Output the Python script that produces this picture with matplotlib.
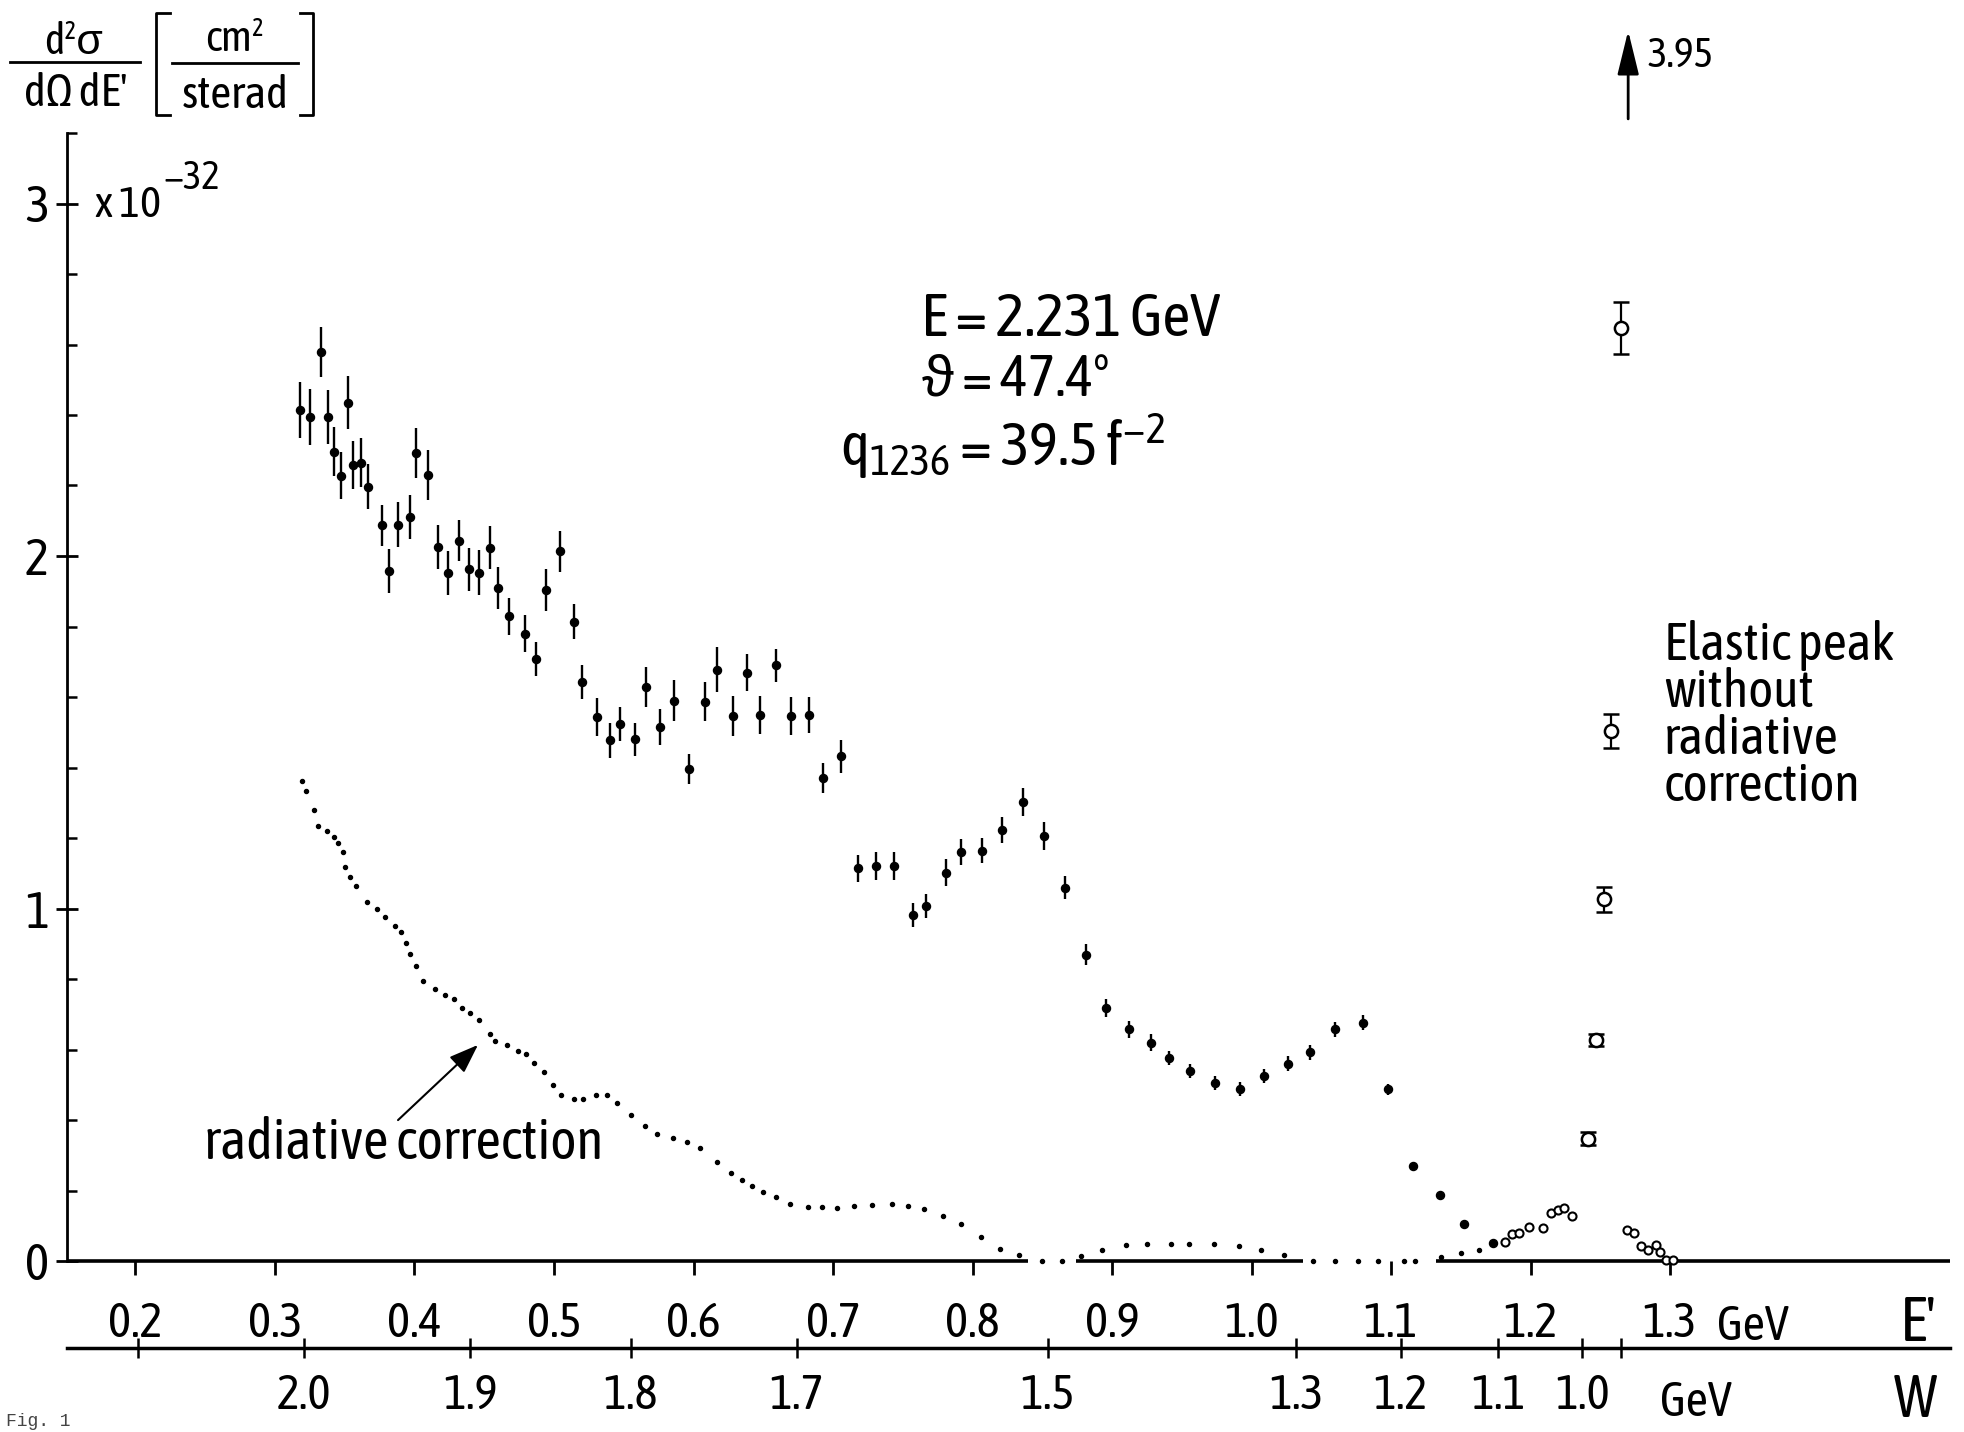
import matplotlib
matplotlib.use('Agg')
import matplotlib.pyplot as plt
from matplotlib.lines import Line2D
from matplotlib.patches import FancyArrowPatch

# schmale Schrift wie die Normschrift im Original
plt.rcParams['font.family'] = ['Asap Condensed', 'Liberation Sans', 'DejaVu Sans']
plt.rcParams['mathtext.default'] = 'regular'

# --- Messpunkte (gefuellte Kreise mit Fehlerbalken), E' in GeV, Wirkungsquerschnitt in 1e-32
e_data = [0.318, 0.325, 0.333, 0.338, 0.342, 0.347, 0.352, 0.356, 0.362, 0.367,
          0.377, 0.382, 0.388, 0.397, 0.401, 0.410, 0.417, 0.424, 0.432, 0.439,
          0.446, 0.454, 0.460, 0.468, 0.479, 0.487, 0.494, 0.504, 0.514, 0.520,
          0.531, 0.540, 0.547, 0.558, 0.566, 0.576, 0.586, 0.597, 0.608, 0.617,
          0.628, 0.638, 0.648, 0.659, 0.670, 0.683, 0.693, 0.706,
          0.718, 0.731, 0.744, 0.757, 0.767, 0.781, 0.792, 0.807, 0.821, 0.836,
          0.851, 0.866, 0.881, 0.896, 0.912, 0.928, 0.941, 0.956, 0.974, 0.992,
          1.009, 1.026, 1.042, 1.060, 1.080, 1.098, 1.116, 1.135, 1.152, 1.173]
sig_data = [2.415, 2.395, 2.579, 2.395, 2.296, 2.228, 2.435, 2.257, 2.265, 2.197,
            2.087, 1.957, 2.089, 2.110, 2.293, 2.230, 2.026, 1.952, 2.043, 1.962,
            1.953, 2.023, 1.910, 1.829, 1.780, 1.708, 1.904, 2.013, 1.814, 1.642,
            1.543, 1.477, 1.523, 1.480, 1.629, 1.515, 1.589, 1.396, 1.587, 1.678,
            1.546, 1.669, 1.548, 1.690, 1.547, 1.549, 1.370, 1.432,
            1.114, 1.121, 1.121, 0.982, 1.008, 1.102, 1.161, 1.164, 1.223, 1.302,
            1.205, 1.059, 0.869, 0.718, 0.657, 0.619, 0.575, 0.540, 0.506, 0.489,
            0.524, 0.560, 0.592, 0.657, 0.676, 0.487, 0.269, 0.186, 0.105, 0.050]
err_data = [0.080, 0.079, 0.071, 0.077, 0.069, 0.066, 0.076, 0.068, 0.069, 0.064,
            0.058, 0.063, 0.064, 0.063, 0.071, 0.070, 0.062, 0.062, 0.058, 0.061,
            0.063, 0.061, 0.060, 0.053, 0.053, 0.049, 0.060, 0.059, 0.050, 0.048,
            0.055, 0.049, 0.048, 0.046, 0.056, 0.052, 0.058, 0.042, 0.055, 0.063,
            0.057, 0.053, 0.054, 0.047, 0.054, 0.052, 0.043, 0.047,
            0.038, 0.039, 0.040, 0.034, 0.034, 0.038, 0.037, 0.036, 0.036, 0.040,
            0.039, 0.033, 0.029, 0.025, 0.025, 0.024, 0.020, 0.020, 0.020, 0.020,
            0.020, 0.022, 0.022, 0.022, 0.022, 0.015, 0.0, 0.0, 0.0, 0.0]

# --- Strahlungskorrektur (punktierte Kurve)
rad_e = [0.319, 0.322, 0.328, 0.331, 0.337, 0.342, 0.345, 0.349, 0.350, 0.354,
         0.358, 0.366, 0.373, 0.379, 0.386, 0.390, 0.394, 0.397, 0.401, 0.406,
         0.415, 0.422, 0.428, 0.434, 0.440, 0.446, 0.454, 0.458, 0.466, 0.474,
         0.480, 0.486, 0.493, 0.499, 0.505, 0.514, 0.521, 0.530, 0.538, 0.545,
         0.555, 0.565, 0.574, 0.585, 0.595, 0.605, 0.617, 0.627, 0.635, 0.642,
         0.650, 0.659, 0.669, 0.682, 0.692, 0.703, 0.715, 0.728, 0.742, 0.754,
         0.765, 0.779, 0.792, 0.806, 0.820, 0.833, 0.850, 0.864, 0.878, 0.893,
         0.910, 0.925, 0.942, 0.955, 0.973, 0.991, 1.007, 1.023, 1.044, 1.060,
         1.076, 1.091, 1.109, 1.117, 1.136, 1.150, 1.163]
rad_v = [1.361, 1.334, 1.279, 1.235, 1.220, 1.204, 1.185, 1.159, 1.117, 1.088,
         1.065, 1.018, 0.998, 0.976, 0.949, 0.932, 0.902, 0.870, 0.837, 0.795,
         0.773, 0.755, 0.744, 0.719, 0.704, 0.684, 0.645, 0.625, 0.612, 0.597,
         0.586, 0.561, 0.536, 0.498, 0.471, 0.459, 0.459, 0.472, 0.471, 0.448,
         0.413, 0.383, 0.361, 0.349, 0.337, 0.320, 0.280, 0.251, 0.231, 0.213,
         0.197, 0.182, 0.162, 0.154, 0.153, 0.151, 0.155, 0.159, 0.162, 0.156,
         0.147, 0.129, 0.104, 0.069, 0.034, 0.017, 0.000, 0.000, 0.014, 0.032,
         0.046, 0.047, 0.049, 0.047, 0.048, 0.043, 0.032, 0.018, 0.000, 0.000,
         0.000, 0.000, 0.000, 0.000, 0.011, 0.023, 0.031]

# --- elastischer Peak ohne Strahlungskorrektur (offene Kreise)
el_e = [1.241, 1.247, 1.253, 1.258, 1.265]
el_v = [0.347, 0.628, 1.026, 1.503, 2.647]
el_err = [0.018, 0.017, 0.035, 0.049, 0.073]
tail_e = [1.182, 1.187, 1.192, 1.199, 1.209, 1.215, 1.220, 1.224, 1.230,
          1.269, 1.274, 1.279, 1.284, 1.290, 1.293, 1.297, 1.302]
tail_v = [0.054, 0.076, 0.080, 0.096, 0.094, 0.136, 0.145, 0.150, 0.129,
          0.087, 0.079, 0.043, 0.032, 0.045, 0.025, 0.004, 0.004]
peak_e = 1.270
peak_v = 3.95

# --- Achsen
e_ticks = [0.2, 0.3, 0.4, 0.5, 0.6, 0.7, 0.8, 0.9, 1.0, 1.1, 1.2, 1.3]
e_labels = ['0.2', '0.3', '0.4', '0.5', '0.6', '0.7', '0.8', '0.9', '1.0', '1.1', '1.2', '1.3']
w_pos = [0.202, 0.321, 0.440, 0.555, 0.674, 0.854, 1.032, 1.107, 1.177, 1.237, 1.265]
w_labels = ['', '2.0', '1.9', '1.8', '1.7', '1.5', '1.3', '1.2', '1.1', '1.0', '']
y_major = [0, 1, 2, 3]
y_minor = [round(0.2 * i, 1) for i in range(1, 17) if i % 5 != 0]

W_PX, H_PX = 1965, 1432


def fx(x):
    return x / W_PX


def fy(y):
    return 1 - y / H_PX


fig = plt.figure(figsize=(19.65, 14.32), dpi=100, facecolor='white')
ax = fig.add_axes([fx(67), fy(1261), fx(1950) - fx(67), fy(133) - fy(1261)])
ax.set_xlim(0.1509, 1.5007)
ax.set_ylim(0, 3.2)

for s in ['top', 'right', 'bottom']:
    ax.spines[s].set_visible(False)
ax.spines['left'].set_linewidth(2.0)

# untere Achse mit Luecken wie im Original
for a, b in [(0.1509, 0.840), (0.874, 1.037), (1.132, 1.5007)]:
    ax.plot([a, b], [0, 0], color='k', lw=2.6, solid_capstyle='butt', clip_on=False)

ax.set_xticks(e_ticks, labels=e_labels)
ax.tick_params(axis='x', which='major', direction='out', length=10, width=2,
               pad=18, labelsize=35)
ax.set_yticks(y_major, labels=[str(v) for v in y_major])
ax.set_yticks(y_minor, minor=True)
ax.tick_params(axis='y', which='major', direction='inout', length=16, width=2,
               pad=5, labelsize=37)
ax.tick_params(axis='y', which='minor', direction='in', length=7, width=1.8)

# W-Achse
secax = ax.secondary_xaxis(-0.0771)
secax.set_xticks(w_pos, labels=w_labels)
secax.tick_params(direction='inout', length=14, width=1.8, pad=10, labelsize=35)
secax.spines['bottom'].set_linewidth(2.5)

# Daten
ax.plot(rad_e, rad_v, 'o', color='k', ms=2.9, ls='none', clip_on=False, zorder=3)
ax.errorbar(e_data, sig_data, yerr=err_data, fmt='o', color='k', ms=5.8,
            elinewidth=1.7, capsize=0, zorder=4)
ax.plot(tail_e, tail_v, 'o', mfc='white', mec='k', ms=5.8, mew=1.5, ls='none',
        clip_on=False, zorder=4)
ax.errorbar(el_e, el_v, yerr=el_err, fmt='o', mfc='white', mec='k', color='k',
            ms=9.5, mew=1.8, elinewidth=1.6, capsize=6, capthick=1.6, zorder=5)
ax.annotate('', xy=(peak_e, 3.49), xytext=(peak_e, 3.24), xycoords='data',
            annotation_clip=False,
            arrowprops=dict(arrowstyle='-|>,head_length=0.9,head_width=0.22',
                            lw=2.0, color='k', mutation_scale=30, shrinkA=0, shrinkB=0))
fig.text(fx(1647), fy(56), '%.2f' % peak_v, ha='left', va='center', fontsize=30)

# Texte
fig.text(fx(921), fy(336), 'E = 2.231 GeV', ha='left', va='baseline', fontsize=44)
fig.text(fx(922), fy(396), 'ϑ = 47.4°', ha='left', va='baseline', fontsize=42)
fig.text(fx(840), fy(466), 'q$_{1236}$ = 39.5 f$^{-2}$', ha='left', va='baseline', fontsize=44)

fig.text(fx(1664), fy(620), 'Elastic peak\nwithout\nradiative\ncorrection',
         ha='left', va='top', fontsize=38, linespacing=0.9)

fig.text(fx(204), fy(1159), 'radiative correction', ha='left', va='baseline', fontsize=40)
fig.add_artist(FancyArrowPatch(
    (fx(396), fy(1122)), (fx(480), fy(1043)), transform=fig.transFigure,
    arrowstyle='-|>,head_length=0.6,head_width=0.22', mutation_scale=30,
    lw=1.5, color='k'))

fig.text(fx(1717), fy(1327), 'GeV', ha='left', va='center', fontsize=35)
fig.text(fx(1918), fy(1324), "E'", ha='center', va='center', fontsize=45)
fig.text(fx(1660), fy(1402), 'GeV', ha='left', va='center', fontsize=35)
fig.text(fx(1915), fy(1417), 'W', ha='center', va='baseline', fontsize=43)

# y-Beschriftung als Bruch
fig.text(fx(74), fy(42), 'd²σ', ha='center', va='center', fontsize=31)
fig.text(fx(76), fy(94), "dΩ dE'", ha='center', va='center', fontsize=33)
fig.text(fx(235), fy(39), 'cm²', ha='center', va='center', fontsize=31)
fig.text(fx(235), fy(95), 'sterad', ha='center', va='center', fontsize=33)
for (x0, x1, y0) in [(10, 140, 62), (172, 298, 63)]:
    fig.add_artist(Line2D([fx(x0), fx(x1)], [fy(y0), fy(y0)], color='k', lw=2,
                          transform=fig.transFigure))
# eckige Klammern
fig.add_artist(Line2D([fx(170), fx(156), fx(156), fx(170)],
                      [fy(13), fy(13), fy(115), fy(115)], color='k', lw=2,
                      transform=fig.transFigure))
fig.add_artist(Line2D([fx(300), fx(313), fx(313), fx(300)],
                      [fy(13), fy(13), fy(115), fy(115)], color='k', lw=2,
                      transform=fig.transFigure))

t10 = fig.text(fx(95), fy(217), 'x 10', ha='left', va='baseline', fontsize=32)
fig.add_artist(matplotlib.text.Annotation('−32', xy=(1, 1), xycoords=t10,
                                          xytext=(2, 18), textcoords='offset points',
                                          ha='left', va='top', fontsize=28))

fig.text(fx(6), fy(1422), 'Fig. 1', ha='left', va='center', fontsize=13,
         family=['Liberation Mono', 'DejaVu Sans Mono'], color='#444444')

fig.savefig('out.png', dpi=100, facecolor='white')
